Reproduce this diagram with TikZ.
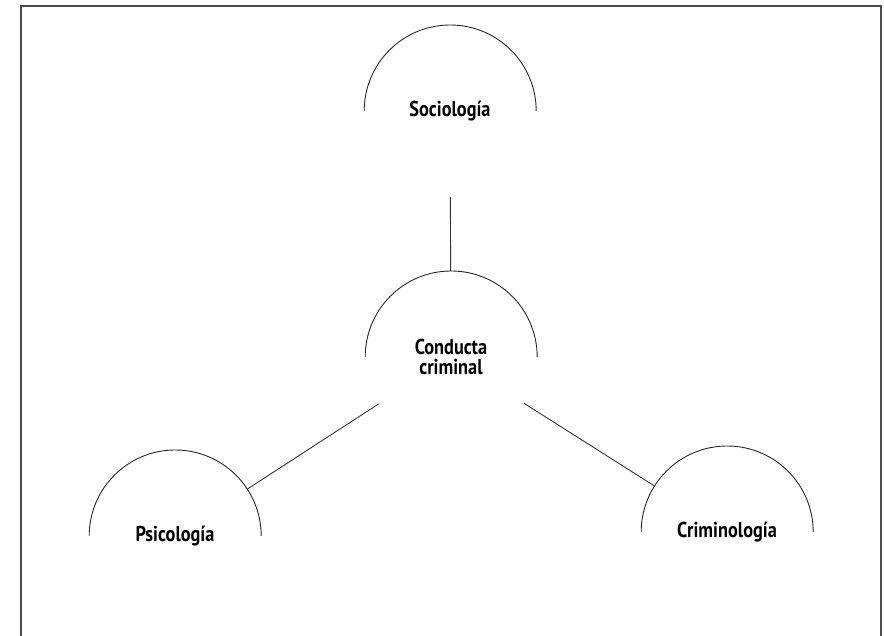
\documentclass[tikz,border=0pt]{standalone}
\usepackage{fontspec}
\setmainfont{PT Sans}[FakeStretch=0.85]
\begin{document}
\begin{tikzpicture}[x=1pt,y=1pt,
  topic/.style={circle, minimum size=172pt, inner sep=0pt, font=\bfseries\fontsize{21.5}{20.5}\selectfont, align=center, text=black},
  rim/.style={draw=black!85, line width=0.9pt},
  link/.style={draw=black!80, line width=0.9pt},
  frame/.style={draw=black!70, line width=1.4pt}]
\useasboundingbox (0,0) rectangle (884,636);
\node[topic] (soc) at (450,525) {Sociología};
\node[topic] (cc) at (451,279) {Conducta\\criminal};
\node[topic] (psi) at (175,100) {Psicología};
\node[topic] (cri) at (727,104) {Criminología};
\foreach \n in {soc,cc,psi,cri}
  \draw[rim] (\n.east) arc[start angle=0, end angle=180, radius=86pt];
\draw[link] (soc) -- (cc);
\draw[link] (cc) -- (psi);
\draw[link] (cc) -- (cri);
\draw[frame] (21,0) -- (21,630) -- (881,630) -- (881,0);
\end{tikzpicture}
\end{document}
